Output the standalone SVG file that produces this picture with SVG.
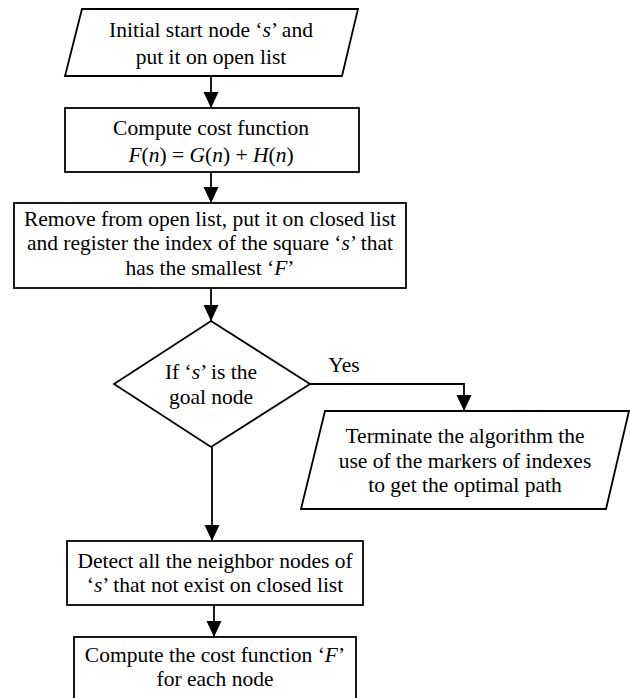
<svg xmlns="http://www.w3.org/2000/svg" width="630" height="698" viewBox="0 0 630 698">
<style>
.shape{fill:#fff;stroke:#000;stroke-width:1.8}
.line{fill:none;stroke:#000;stroke-width:1.8}
.t{font-family:'Liberation Serif','Times New Roman',serif;font-size:21.5px;fill:#000;text-anchor:middle}
.i{font-style:italic}
</style>
<defs>
<marker id="arr" markerUnits="userSpaceOnUse" markerWidth="16" markerHeight="16" viewBox="0 0 16 16" refX="16" refY="8" orient="auto">
<path d="M0,0.5 L16,8 L0,15.5 Z" fill="#000"/>
</marker>
</defs>
<g id="connectors">
<line class="line" x1="211" y1="76" x2="211" y2="108" marker-end="url(#arr)"/>
<line class="line" x1="211" y1="172" x2="211" y2="203" marker-end="url(#arr)"/>
<line class="line" x1="211" y1="288" x2="211" y2="321" marker-end="url(#arr)"/>
<polyline class="line" points="310,384 464,384 464,411" marker-end="url(#arr)"/>
<line class="line" x1="212" y1="447" x2="212" y2="541" marker-end="url(#arr)"/>
<line class="line" x1="214" y1="605" x2="214" y2="637" marker-end="url(#arr)"/>
<text class="t" x="344" y="372">Yes</text>
</g>
<g id="n1">
<polygon class="shape" points="82,9 358,9 342,76 65,76"/>
<text class="t" x="211" y="37">Initial start node ‘<tspan class="i">s</tspan>’ and</text>
<text class="t" x="211" y="64">put it on open list</text>
</g>
<g id="n2">
<rect class="shape" x="65" y="108" width="294" height="64"/>
<text class="t" x="211" y="135">Compute cost function</text>
<text class="t" x="211" y="162"><tspan class="i">F</tspan>(<tspan class="i">n</tspan>) = <tspan class="i">G</tspan>(<tspan class="i">n</tspan>) + <tspan class="i">H</tspan>(<tspan class="i">n</tspan>)</text>
</g>
<g id="n3">
<rect class="shape" x="14" y="203" width="392" height="85"/>
<text class="t" x="210" y="226">Remove from open list, put it on closed list</text>
<text class="t" x="210" y="250">and register the index of the square ‘<tspan class="i">s</tspan>’ that</text>
<text class="t" x="210" y="275">has the smallest ‘<tspan class="i">F</tspan>’</text>
</g>
<g id="n4">
<polygon class="shape" points="211,321 310,384 211,447 114,384"/>
<text class="t" x="211" y="379">If ‘<tspan class="i">s</tspan>’ is the</text>
<text class="t" x="211" y="404">goal node</text>
</g>
<g id="n5">
<polygon class="shape" points="325,411 629,411 606,509 301,509"/>
<text class="t" x="465" y="443">Terminate the algorithm the</text>
<text class="t" x="465" y="468">use of the markers of indexes</text>
<text class="t" x="465" y="492">to get the optimal path</text>
</g>
<g id="n6">
<rect class="shape" x="67" y="541" width="296" height="64"/>
<text class="t" x="215" y="568">Detect all the neighbor nodes of</text>
<text class="t" x="215" y="592">‘<tspan class="i">s</tspan>’ that not exist on closed list</text>
</g>
<g id="n7">
<rect class="shape" x="74" y="637" width="282" height="70"/>
<text class="t" x="215" y="662">Compute the cost function ‘<tspan class="i">F</tspan>’</text>
<text class="t" x="215" y="686">for each node</text>
</g>
</svg>
